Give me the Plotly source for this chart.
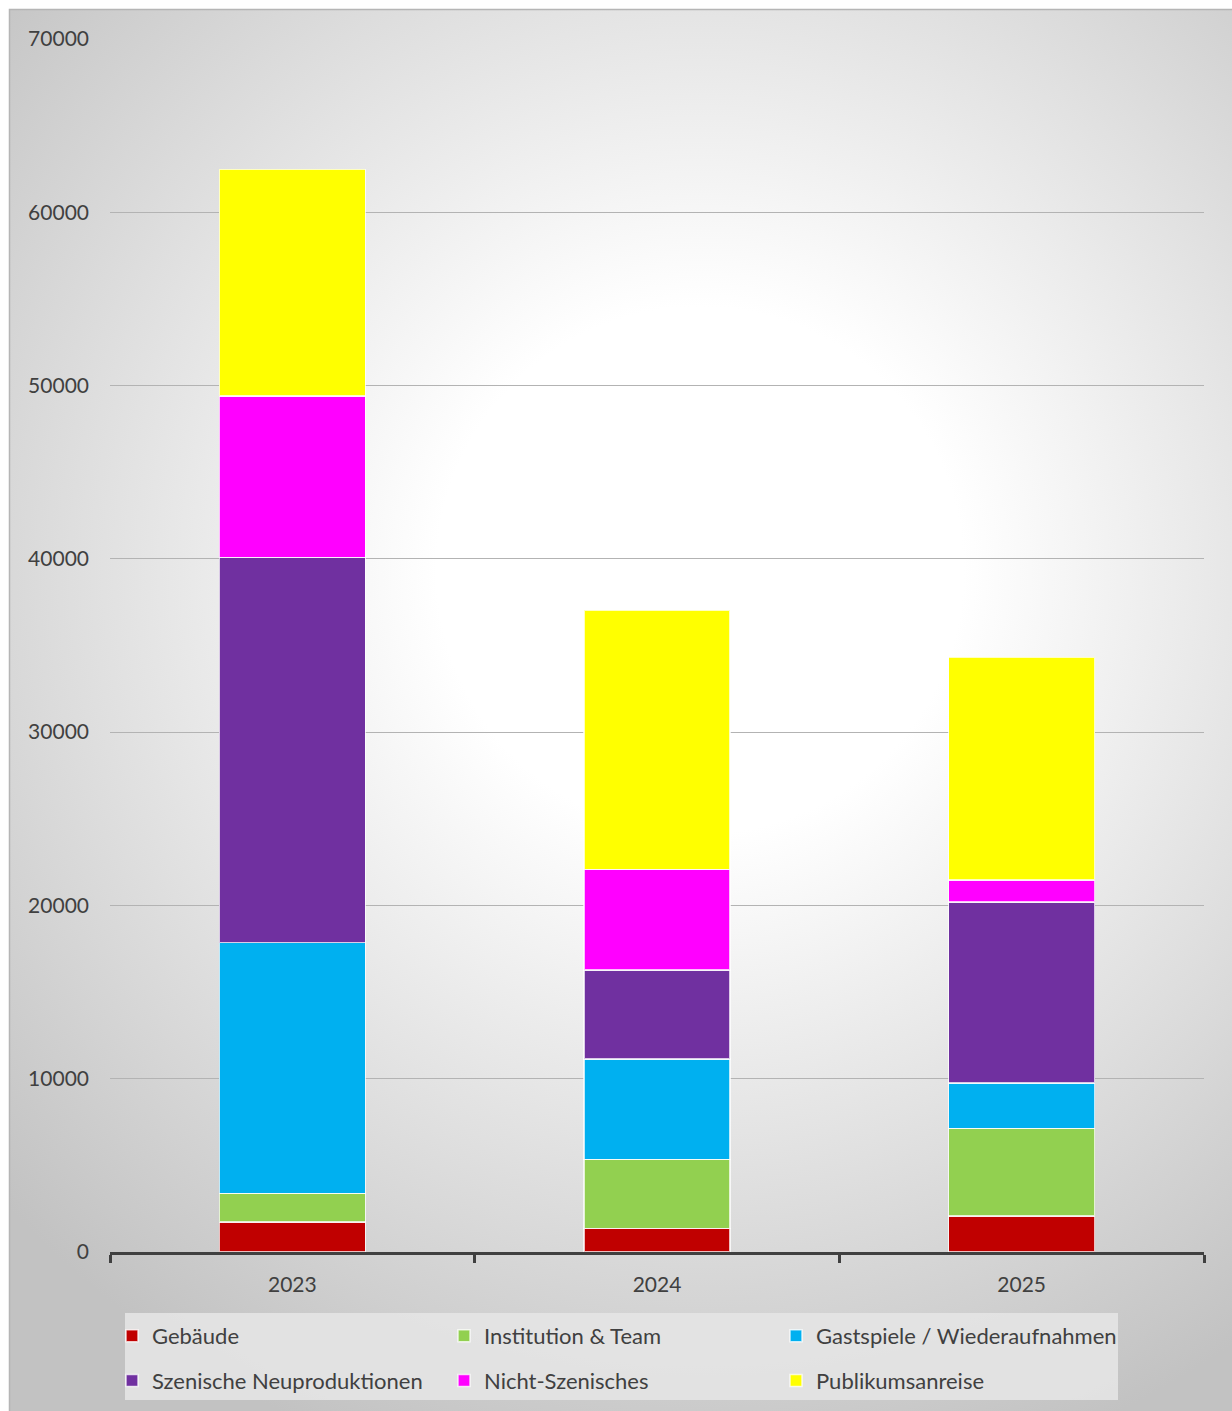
import base64
import plotly.graph_objects as go

years = ["2023", "2024", "2025"]
gebaeude = [1730, 1370, 2080]
institution = [1660, 3980, 5060]
gastspiele = [14460, 5800, 2600]
szenische = [22240, 5120, 10460]
nicht_szenisch = [9310, 5810, 1270]
publikum = [13080, 14960, 12850]

series = [
    ("Gebäude", gebaeude, "#C00000", "legend"),
    ("Institution & Team", institution, "#92D050", "legend2"),
    ("Gastspiele / Wiederaufnahmen", gastspiele, "#00B0F0", "legend3"),
    ("Szenische Neuproduktionen", szenische, "#7030A0", "legend"),
    ("Nicht-Szenisches", nicht_szenisch, "#FF00FF", "legend2"),
    ("Publikumsanreise", publikum, "#FFFF00", "legend3"),
]

W, H = 1232, 1411
L, R, T, B = 110, 28, 39, 159
pw, ph = W - L - R, H - T - B

FONT = "Lato, Open Sans, sans-serif"
TXT = "#404040"

fig = go.Figure()
for i, (name, vals, col, lg) in enumerate(series):
    fig.add_trace(go.Bar(
        x=years, y=vals, name=name, legend=lg, legendgroup=f"g{i}",
        marker=dict(color=col, line=dict(color="rgba(255,255,255,0.75)", width=1.5)),
        width=0.4,
    ))

# radial gradient background (chart area)
bw, bh = W - 10, H - 10
svg = f'''<svg xmlns="http://www.w3.org/2000/svg" width="{bw}" height="{bh}" viewBox="0 0 {bw} {bh}">
<defs><radialGradient id="g" gradientUnits="userSpaceOnUse" cx="690" cy="560" r="940">
<stop offset="0" stop-color="#ffffff"/><stop offset="0.28" stop-color="#ffffff"/>
<stop offset="1" stop-color="#c2c2c2"/></radialGradient></defs>
<rect width="{bw}" height="{bh}" fill="url(#g)"/></svg>'''
src = "data:image/svg+xml;base64," + base64.b64encode(svg.encode()).decode()


def px_to_paper_x(px):
    return (px - L) / pw


def px_to_paper_y(py):
    return (H - B - py) / ph


fig.add_layout_image(dict(
    source=src, xref="paper", yref="paper",
    x=px_to_paper_x(10), y=px_to_paper_y(10),
    sizex=bw / pw, sizey=bh / ph,
    xanchor="left", yanchor="top", sizing="stretch", layer="below",
))
fig.add_shape(type="rect", xref="paper", yref="paper",
              x0=px_to_paper_x(9.5), x1=px_to_paper_x(W + 5),
              y0=px_to_paper_y(H + 5), y1=px_to_paper_y(9.5),
              line=dict(color="#b5b5b5", width=1.5), layer="below")
# legend box background
fig.add_shape(type="rect", xref="paper", yref="paper",
              x0=px_to_paper_x(125), x1=px_to_paper_x(1118),
              y0=px_to_paper_y(1400), y1=px_to_paper_y(1313),
              line=dict(width=0), fillcolor="rgba(228,228,228,0.9)", layer="below")


def leg(px_x):
    return dict(
        orientation="v", xanchor="left", yanchor="top",
        xref="container", yref="container",
        x=px_x / W, y=(H - 1315) / H,
        bgcolor="rgba(0,0,0,0)",
        font=dict(family=FONT, size=22, color=TXT),
        traceorder="grouped", tracegroupgap=13, itemwidth=30,
    )


fig.update_layout(
    width=W, height=H,
    margin=dict(l=L, r=R, t=T, b=B, autoexpand=False),
    barmode="stack",
    paper_bgcolor="white",
    plot_bgcolor="rgba(0,0,0,0)",
    font=dict(family=FONT, size=21, color=TXT),
    showlegend=True,
    legend=leg(112),
    legend2=leg(444),
    legend3=leg(776),
    bargap=0.6,
)
fig.update_xaxes(
    type="category",
    showline=True, linecolor="#404040", linewidth=3,
    ticks="outside", tickson="boundaries", ticklen=8, tickwidth=3, tickcolor="#404040",
    showgrid=False,
    tickfont=dict(family=FONT, size=21, color=TXT),
    ticklabelstandoff=12,
)
fig.update_yaxes(
    range=[0, 70000], dtick=10000, tickformat="d",
    showgrid=True, gridcolor="#b3b3b3", gridwidth=1.2,
    zeroline=False, showline=False, ticks="",
    tickfont=dict(family=FONT, size=21, color=TXT),
    ticklabelstandoff=20,
)

fig.write_html(
    "out.html",
    config={"displayModeBar": False},
    post_script="document.body.style.margin='0';document.body.style.overflow='hidden';",
)
